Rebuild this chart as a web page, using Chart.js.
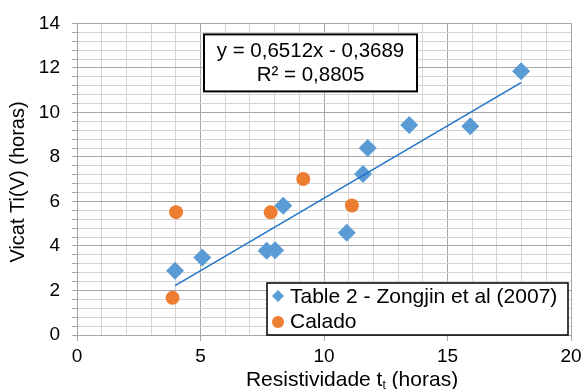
<!DOCTYPE html>
<html>
<head>
<meta charset="utf-8">
<script src="https://cdn.jsdelivr.net/npm/chart.js@4"></script>
<style>
  html, body { margin: 0; padding: 0; background: #fff; }
  #wrap { width: 587px; height: 389px; position: relative; }
</style>
</head>
<body>
<div id="wrap"><canvas id="vicatChart"></canvas></div>
<script>
// Zongjin et al (2007), table 2
const zongjinX = [3.97, 5.07, 7.68, 8.02, 8.35, 10.92, 11.58, 11.77, 13.45, 15.92, 17.98];
const zongjinY = [2.89, 3.48, 3.78, 3.81, 5.81, 4.59, 7.23, 8.40, 9.44, 9.38, 11.85];
// Calado
const caladoX = [4.01, 3.87, 7.84, 9.16, 11.13];
const caladoY = [5.52, 1.67, 5.51, 7.01, 5.82];

// linear trendline of the Zongjin series
const slope = 0.6512;
const intercept = -0.3689;
const rSquared = 0.8805;

const seriesNames = ['Table 2 - Zongjin et al (2007)', 'Calado'];
const xTickLabels = [0, 5, 10, 15, 20];
const yTickLabels = [0, 2, 4, 6, 8, 10, 12, 14];

const FONT = '"Liberation Sans", Arial, sans-serif';
const BLUE = '#5b9bd5';
const ORANGE = '#ed7d31';
const MAJOR = '#a6a6a6';
const MINOR = '#d4d4d4';

const toPoints = (xs, ys) => xs.map((x, i) => ({ x: x, y: ys[i] }));
const trendMin = Math.min(...zongjinX);
const trendMax = Math.max(...zongjinX);
const trendPoints = [trendMin, trendMax].map(x => ({ x: x, y: slope * x + intercept }));

const isOn = (v, list) => list.some(t => Math.abs(t - v) < 1e-6);
const fmt = (v, d) => v.toFixed(d).replace('.', ',');

// equation box + legend drawn inside the plot area
const overlays = {
  id: 'overlays',
  afterDatasetsDraw(chart) {
    const { ctx, chartArea: a } = chart;
    ctx.save();

    // trendline equation
    const bx = a.left + 127, by = a.top + 11, bw = 213, bh = 57;
    ctx.fillStyle = '#fff';
    ctx.fillRect(bx, by, bw, bh);
    ctx.strokeStyle = '#000';
    ctx.lineWidth = 2;
    ctx.strokeRect(bx, by, bw, bh);
    ctx.fillStyle = '#000';
    ctx.font = '20.5px ' + FONT;
    ctx.textAlign = 'center';
    ctx.textBaseline = 'middle';
    const sign = intercept < 0 ? ' - ' : ' + ';
    ctx.fillText('y = ' + fmt(slope, 4) + 'x' + sign + fmt(Math.abs(intercept), 4), bx + bw / 2, by + 17);
    ctx.fillText('R² = ' + fmt(rSquared, 4), bx + bw / 2, by + 41);

    // legend
    const lw = 301, lh = 52;
    const lx = a.right - 3 - lw, ly = a.bottom - lh;
    ctx.fillStyle = '#fff';
    ctx.fillRect(lx, ly, lw, lh);
    ctx.lineWidth = 1.5;
    ctx.strokeRect(lx, ly, lw, lh);
    ctx.fillStyle = BLUE;
    ctx.beginPath();
    ctx.moveTo(lx + 11, ly + 7); ctx.lineTo(lx + 17, ly + 13);
    ctx.lineTo(lx + 11, ly + 19); ctx.lineTo(lx + 5, ly + 13);
    ctx.closePath(); ctx.fill();
    ctx.fillStyle = ORANGE;
    ctx.beginPath();
    ctx.arc(lx + 11, ly + 39, 6, 0, Math.PI * 2);
    ctx.fill();
    ctx.fillStyle = '#000';
    ctx.font = '21px ' + FONT;
    ctx.textAlign = 'left';
    ctx.fillText(seriesNames[0], lx + 23, ly + 14);
    ctx.fillText(seriesNames[1], lx + 23, ly + 39);
    ctx.restore();
  },
  afterDraw(chart) {
    const { ctx } = chart;
    ctx.save();
    ctx.fillStyle = '#000';
    ctx.textBaseline = 'alphabetic';

    // y axis title
    ctx.font = '20px ' + FONT;
    ctx.translate(24, 182);
    ctx.rotate(-Math.PI / 2);
    ctx.textAlign = 'center';
    ctx.fillText('Vicat Ti(V) (horas)', 0, 0);
    ctx.setTransform(1, 0, 0, 1, 0, 0);

    // x axis title with subscript
    const p1 = 'Resistividade t', sub = 't', p2 = ' (horas)';
    const big = '21px ' + FONT, small = '12px ' + FONT;
    ctx.font = big;
    const w1 = ctx.measureText(p1).width, w3 = ctx.measureText(p2).width;
    ctx.font = small;
    const w2 = ctx.measureText(sub).width;
    let x = 352 - (w1 + w2 + w3) / 2;
    const base = 386;
    ctx.textAlign = 'left';
    ctx.font = big;
    ctx.fillText(p1, x, base); x += w1;
    ctx.font = small;
    ctx.fillText(sub, x, base + 3); x += w2;
    ctx.font = big;
    ctx.fillText(p2, x, base);
    ctx.restore();
  }
};

const ctx = document.getElementById('vicatChart').getContext('2d');
const vicatChart = new Chart(ctx, {
  type: 'scatter',
  data: {
    datasets: [
      {
        label: 'Linear (' + seriesNames[0] + ')',
        type: 'line',
        data: trendPoints,
        borderColor: '#1f74c6',
        borderWidth: 1.5,
        pointRadius: 0,
        fill: false,
        order: 0
      },
      {
        label: seriesNames[1],
        data: toPoints(caladoX, caladoY),
        pointStyle: 'circle',
        pointRadius: 7,
        backgroundColor: ORANGE,
        borderWidth: 0,
        order: 1
      },
      {
        label: seriesNames[0],
        data: toPoints(zongjinX, zongjinY),
        pointStyle: 'rectRot',
        pointRadius: 9,
        backgroundColor: BLUE,
        borderWidth: 0,
        order: 2
      }
    ]
  },
  options: {
    responsive: true,
    maintainAspectRatio: false,
    animation: false,
    layout: { padding: { top: 20, right: 16, left: 0, bottom: 0 } },
    plugins: {
      legend: { display: false },
      tooltip: { enabled: false }
    },
    scales: {
      x: {
        type: 'linear',
        min: 0,
        max: 20,
        afterFit(scale) { scale.height = 54; },
        ticks: {
          stepSize: 1,
          autoSkip: false,
          maxRotation: 0,
          padding: 4,
          color: '#000',
          font: { family: FONT, size: 19 },
          callback: v => isOn(v, xTickLabels) ? String(v) : ''
        },
        grid: {
          color: c => isOn(c.tick.value, xTickLabels) ? MAJOR : MINOR,
          tickColor: c => isOn(c.tick.value, xTickLabels) ? MAJOR : 'rgba(0,0,0,0)',
          tickLength: 6,
          lineWidth: 1
        },
        border: { color: MAJOR }
      },
      y: {
        type: 'linear',
        min: 0,
        max: 14,
        afterFit(scale) { scale.width = 77; },
        ticks: {
          stepSize: 0.4,
          autoSkip: false,
          padding: 12,
          color: '#000',
          font: { family: FONT, size: 19 },
          callback: v => isOn(v, yTickLabels) ? String(Math.round(v)) : ''
        },
        grid: {
          color: c => isOn(c.tick.value, yTickLabels) ? MAJOR : MINOR,
          tickColor: MAJOR,
          tickLength: 5,
          lineWidth: 1
        },
        border: { color: MAJOR }
      }
    }
  },
  plugins: [overlays]
});
</script>
</body>
</html>
